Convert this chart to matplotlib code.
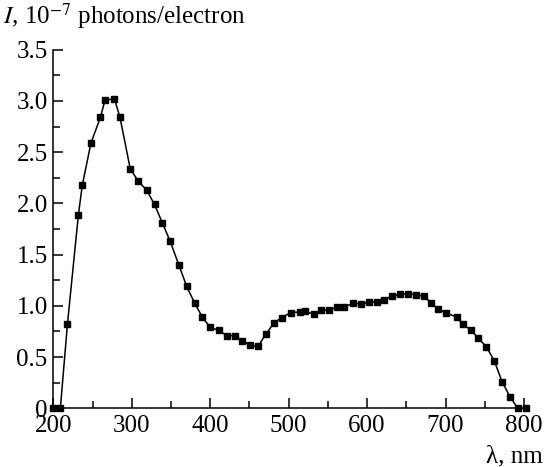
import matplotlib
matplotlib.use("Agg")
import matplotlib.pyplot as plt
from matplotlib.ticker import MultipleLocator, FixedLocator

wavelength_nm = [200, 209, 218, 232, 237, 248, 260, 266, 278, 285, 298, 308, 319, 329,
                 339, 349, 360, 370, 380, 390, 400, 411, 421, 431, 441, 451, 461, 471,
                 481, 491, 503, 515, 521, 532, 541, 551, 562, 571, 582, 592, 602, 612,
                 621, 632, 642, 652, 662, 672, 682, 690, 700, 714, 722, 732, 741, 752,
                 762, 772, 782, 792, 802]
intensity = [0.0, 0.0, 0.82, 1.89, 2.18, 2.59, 2.84, 3.01, 3.02, 2.84, 2.34, 2.22, 2.13, 1.99,
             1.81, 1.63, 1.40, 1.19, 1.03, 0.89, 0.79, 0.76, 0.71, 0.71, 0.66, 0.615, 0.605, 0.725,
             0.83, 0.885, 0.935, 0.94, 0.945, 0.92, 0.957, 0.96, 0.99, 0.99, 1.025, 1.02, 1.035, 1.04,
             1.06, 1.095, 1.115, 1.12, 1.11, 1.095, 1.03, 0.97, 0.935, 0.89, 0.82, 0.765, 0.69, 0.60,
             0.465, 0.26, 0.115, 0.0, 0.0]

x_ticks = [200, 300, 400, 500, 600, 700, 800]
x_tick_labels = ["200", "300", "400", "500", "600", "700", "800"]
y_ticks = [0, 0.5, 1.0, 1.5, 2.0, 2.5, 3.0, 3.5]
y_tick_labels = ["0", "0.5", "1.0", "1.5", "2.0", "2.5", "3.0", "3.5"]

plt.rcParams['font.family'] = ['Liberation Serif', 'DejaVu Serif']
plt.rcParams['mathtext.fontset'] = 'stix'

FS = 18

fig = plt.figure(figsize=(5.45, 4.67), dpi=100)
ax = fig.add_axes([0.0978, 0.1257, 0.9615 - 0.0978, 0.8934 - 0.1257])

ax.plot(wavelength_nm, intensity, color='black', linewidth=1.1, marker='s',
        markersize=4.2, markerfacecolor='black', markeredgecolor='black', clip_on=False)

ax.set_xlim(200, 800)
ax.set_ylim(0, 3.5)
ax.xaxis.set_major_locator(FixedLocator(x_ticks))
ax.set_xticklabels(x_tick_labels)
ax.yaxis.set_major_locator(FixedLocator(y_ticks))
ax.set_yticklabels(y_tick_labels)
ax.xaxis.set_minor_locator(MultipleLocator(50))
ax.yaxis.set_minor_locator(MultipleLocator(0.25))

for s in ['top', 'right']:
    ax.spines[s].set_visible(False)
for s in ['left', 'bottom']:
    ax.spines[s].set_linewidth(1.1)

ax.tick_params(axis='both', which='major', direction='in', length=7, width=1.1,
               labelsize=FS, color='black')
ax.tick_params(axis='both', which='minor', direction='in', length=5, width=1.1)
ax.tick_params(axis='x', which='major', pad=5)
ax.tick_params(axis='y', which='major', pad=4)

fig.text(0.006, 0.948, r"$\mathit{I}$, 10$^{-7}$ photons/electron", fontsize=FS,
         ha='left', va='baseline')
fig.text(0.996, 0.01, "λ, nm", fontsize=FS, ha='right', va='baseline')

fig.savefig("out.png", dpi=100)
